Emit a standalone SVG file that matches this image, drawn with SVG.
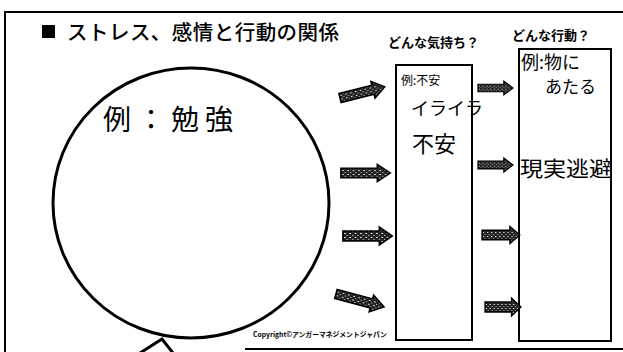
<svg xmlns="http://www.w3.org/2000/svg" width="623" height="352" viewBox="0 0 623 352">
<style>
.frame{fill:none;stroke:#000;stroke-width:2}
.box{fill:#fff;stroke:#000;stroke-width:2}
.title{font-family:"Noto Sans CJK JP",sans-serif;font-weight:500;font-size:20.5px;fill:#000}
.head{font-family:"Noto Sans CJK JP",sans-serif;font-weight:700;font-size:13px;fill:#000}
.hand{font-family:"Noto Sans CJK JP",sans-serif;font-weight:400;fill:#000}
.copy{font-family:"Noto Sans CJK JP",sans-serif;font-weight:700;font-size:6.8px;fill:#000}
.arr{fill:url(#tex);stroke:#000;stroke-width:1.6;stroke-linejoin:miter}
</style>
<defs>
<pattern id="tex" width="5" height="4" patternUnits="userSpaceOnUse">
<rect width="5" height="4" fill="#222"/>
<rect x="1" y="1" width="1.5" height="1" fill="#fff"/>
<rect x="3.5" y="3" width="1" height="1" fill="#ddd"/>
</pattern>
<path id="arrow" d="M0,-5 H34 V-9 L46,0 L34,9 V5 H0 Z"/>
</defs>
<rect width="623" height="352" fill="#fff"/>
<g id="frame">
<path class="frame" d="M5,352 V12 H623"/>
<path class="frame" d="M245,349 H623"/>
</g>
<g id="title">
<rect x="42" y="25" width="13" height="13" fill="#000"/>
<text class="title" x="67" y="40" textLength="272" lengthAdjust="spacing">ストレス、感情と行動の関係</text>
</g>
<g id="head-feel"><text class="head" x="388" y="47">どんな気持ち？</text></g>
<g id="head-act"><text class="head" x="512" y="40">どんな行動？</text></g>
<g id="stress">
<ellipse cx="191" cy="203" rx="138" ry="135" fill="none" stroke="#000" stroke-width="3"/>
<path d="M140,353 L162,339 L173,353" fill="none" stroke="#000" stroke-width="3"/>
<text class="hand" x="103" y="130" font-size="28" letter-spacing="6">例：勉強</text>
</g>
<g id="feeling">
<rect class="box" x="396" y="65" width="76" height="275"/>
<text class="hand" x="401" y="85" font-size="12">例:不安</text>
<text class="hand" x="411" y="115" font-size="18">イライラ</text>
<text class="hand" x="412" y="152" font-size="22">不安</text>
</g>
<g id="action">
<rect class="box" x="519" y="49" width="92" height="292"/>
<text class="hand" x="521" y="69" font-size="18">例:物に</text>
<text class="hand" x="545" y="93" font-size="17">あたる</text>
<text class="hand" x="520" y="176" font-size="21" textLength="92" lengthAdjust="spacingAndGlyphs">現実逃避</text>
</g>
<g id="connectors">
<use href="#arrow" class="arr" transform="translate(340,98) rotate(-14) scale(1,0.95)"/>
<use href="#arrow" class="arr" transform="translate(341,173) scale(1.07,0.95)"/>
<use href="#arrow" class="arr" transform="translate(343,236) scale(1.07,1.0)"/>
<use href="#arrow" class="arr" transform="translate(336,294) rotate(15) scale(1.08,0.95)"/>
<use href="#arrow" class="arr" transform="translate(478,88) scale(0.76,0.75)"/>
<use href="#arrow" class="arr" transform="translate(478,165) scale(0.76,0.78)"/>
<use href="#arrow" class="arr" transform="translate(482,235) scale(0.82,0.95)"/>
<use href="#arrow" class="arr" transform="translate(485,307) scale(0.78,1.0)"/>
</g>
<g id="copyright"><text class="copy" x="253" y="337">Copyright©アンガーマネジメントジャパン</text></g>
</svg>
